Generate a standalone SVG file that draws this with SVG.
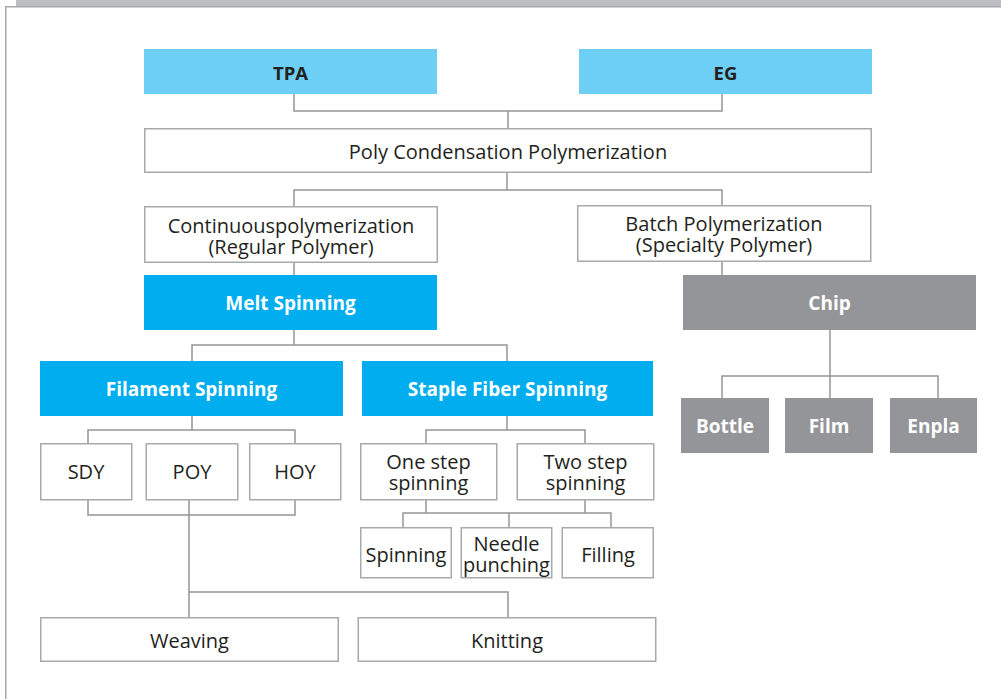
<svg xmlns="http://www.w3.org/2000/svg" width="1001" height="699" viewBox="0 0 1001 699">
  <style>
    text { font-family: "Open Sans", "Noto Sans", "Liberation Sans", sans-serif; font-size: 20px; text-anchor: middle; dominant-baseline: central; }
    .plain rect { fill: #ffffff; stroke: #a7a9ac; stroke-width: 1.5; }
    .plain text { fill: #231f20; }
    .raw rect { fill: #6dcff6; }
    .raw text { fill: #231f20; font-weight: bold; font-size: 18.5px; }
    .proc rect { fill: #00aeef; }
    .proc text { fill: #ffffff; font-weight: bold; font-size: 19px; }
    .chip rect { fill: #939598; }
    .chip text { fill: #ffffff; font-weight: bold; font-size: 19px; }
    #connectors path { fill: none; stroke: #939598; stroke-width: 1.5; }
  </style>

  <!-- page frame -->
  <rect x="16" y="0" width="985" height="6" fill="#bcbec0"/>
  <path d="M5.75 699 V6.75 H1001" fill="none" stroke="#a7a9ac" stroke-width="1.5"/>

  <!-- connectors -->
  <g id="connectors">
    <path d="M294 94 V111 H722 V94 M508 111 V128"/>
    <path d="M507 173 V190 M294 206 V190 H722 V205"/>
    <path d="M294 263 V275"/>
    <path d="M722 262 V275"/>
    <path d="M830 330 V398 M722 398 V376 H938 V398"/>
    <path d="M294 330 V345 M192 361 V345 H507 V361"/>
    <path d="M192 416 V430 M88 443 V430 H295 V443"/>
    <path d="M88 500 V515 H295 V500 M189 500 V617 M189 592 H508 V617"/>
    <path d="M507 416 V430 M426 443 V430 H585 V443"/>
    <path d="M426 500 V513 M585 500 V513 M403 527 V513 H611 V527 M509 513 V527"/>
  </g>

  <!-- raw materials -->
  <g id="tpa" class="raw"><rect x="144" y="49" width="293" height="45"/><text x="290.5" y="72">TPA</text></g>
  <g id="eg" class="raw"><rect x="579" y="49" width="293" height="45"/><text x="725.5" y="72">EG</text></g>

  <!-- polymerization -->
  <g id="poly-condensation" class="plain"><rect x="144.75" y="128.75" width="726.5" height="43.5"/><text x="508" y="151">Poly Condensation Polymerization</text></g>
  <g id="continuous" class="plain"><rect x="144.75" y="206.75" width="292.5" height="55.5"/><text x="291" y="225">Continuouspolymerization<tspan x="291" dy="21">(Regular Polymer)</tspan></text></g>
  <g id="batch" class="plain"><rect x="577.75" y="205.75" width="293" height="55.5"/><text x="724" y="223">Batch Polymerization<tspan x="724" dy="21">(Specialty Polymer)</tspan></text></g>

  <!-- spinning -->
  <g id="melt-spinning" class="proc"><rect x="144" y="275" width="293" height="55"/><text x="290.5" y="303">Melt Spinning</text></g>
  <g id="filament-spinning" class="proc"><rect x="40" y="361" width="303" height="55"/><text x="191.5" y="389">Filament Spinning</text></g>
  <g id="staple-fiber-spinning" class="proc"><rect x="362" y="361" width="291" height="55"/><text x="507.5" y="389">Staple Fiber Spinning</text></g>

  <!-- chip branch -->
  <g id="chip" class="chip"><rect x="683" y="275" width="293" height="55"/><text x="829.5" y="303">Chip</text></g>
  <g id="bottle" class="chip"><rect x="681" y="398" width="88" height="55"/><text x="725" y="426">Bottle</text></g>
  <g id="film" class="chip"><rect x="785" y="398" width="88" height="55"/><text x="829" y="426">Film</text></g>
  <g id="enpla" class="chip"><rect x="890" y="398" width="87" height="55"/><text x="933.5" y="426">Enpla</text></g>

  <!-- filament products -->
  <g id="sdy" class="plain"><rect x="40.75" y="443.75" width="91" height="56"/><text x="86" y="471">SDY</text></g>
  <g id="poy" class="plain"><rect x="146.25" y="443.75" width="91.5" height="56"/><text x="192" y="471">POY</text></g>
  <g id="hoy" class="plain"><rect x="249.75" y="443.75" width="91" height="56"/><text x="295" y="471">HOY</text></g>

  <!-- staple fiber routes -->
  <g id="one-step" class="plain"><rect x="360.75" y="443.75" width="136" height="56"/><text x="428.5" y="461">One step<tspan x="428.5" dy="21">spinning</tspan></text></g>
  <g id="two-step" class="plain"><rect x="517.25" y="443.75" width="136.5" height="56"/><text x="585.5" y="461">Two step<tspan x="585.5" dy="21">spinning</tspan></text></g>
  <g id="spinning" class="plain"><rect x="360.75" y="527.75" width="90.5" height="50"/><text x="406" y="554">Spinning</text></g>
  <g id="needle-punching" class="plain"><rect x="461.25" y="527.75" width="90.5" height="50"/><text x="506.5" y="543">Needle<tspan x="506.5" dy="21">punching</tspan></text></g>
  <g id="filling" class="plain"><rect x="562.25" y="527.75" width="91" height="50"/><text x="608" y="554">Filling</text></g>

  <!-- fabric -->
  <g id="weaving" class="plain"><rect x="40.75" y="617.75" width="297.5" height="43.5"/><text x="189.5" y="640">Weaving</text></g>
  <g id="knitting" class="plain"><rect x="358.25" y="617.75" width="297.5" height="43.5"/><text x="507" y="640">Knitting</text></g>
</svg>
